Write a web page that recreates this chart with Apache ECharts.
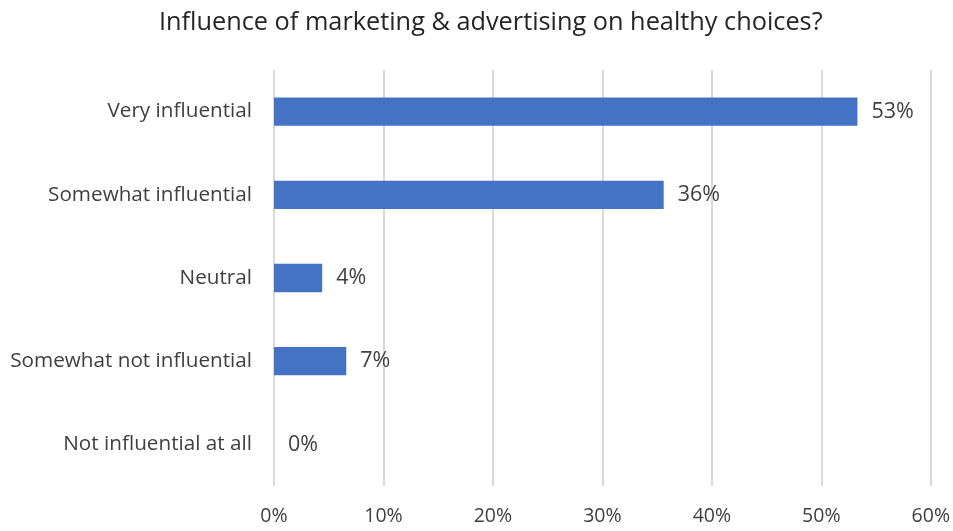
<!DOCTYPE html>
<html>
<head>
<meta charset="utf-8">
<script src="https://cdn.jsdelivr.net/npm/echarts@6/dist/echarts.min.js"></script>
<style>
  html, body { margin: 0; padding: 0; background: #fff; }
  #chart { width: 953px; height: 531px; }
</style>
</head>
<body>
<div id="chart"></div>
<script>
// Survey answers, top to bottom as shown
const categories = [
  'Very influential',
  'Somewhat influential',
  'Neutral',
  'Somewhat not influential',
  'Not influential at all'
];
// Share of respondents, in percent
const shares = [53.3, 35.6, 4.4, 6.6, 0];
const tickMax = 60;
const tickStep = 10;

const FONT = '"Open Sans", "Noto Sans", sans-serif';
const chart = echarts.init(document.getElementById('chart'));

chart.setOption({
  animation: false,
  backgroundColor: '#ffffff',
  title: {
    text: 'Influence of marketing & advertising on healthy choices?',
    left: 154,
    top: 5,
    textStyle: { fontFamily: FONT, fontSize: 25.3, fontWeight: 'normal', color: '#262626' }
  },
  grid: { left: 274, right: 19, top: 70, bottom: 45, containLabel: false },
  xAxis: {
    type: 'value',
    min: 0,
    max: tickMax,
    interval: tickStep,
    axisLine: { show: false },
    axisTick: { show: false },
    splitLine: { show: true, lineStyle: { color: '#d9d9d9', width: 2 } },
    axisLabel: {
      formatter: v => v + '%',
      margin: 20,
      fontFamily: FONT, fontSize: 19.5, color: '#404040'
    }
  },
  yAxis: {
    type: 'category',
    data: categories,
    inverse: true,
    axisLine: { show: false },
    axisTick: { show: false },
    axisLabel: { margin: 22, fontFamily: FONT, fontSize: 20.7, color: '#404040' }
  },
  series: [{
    type: 'bar',
    data: shares,
    barWidth: '34%',
    itemStyle: { color: '#4472c4' },
    label: {
      show: true,
      position: 'right',
      distance: 14,
      formatter: p => Math.round(p.value) + '%',
      fontFamily: FONT, fontSize: 21.5, color: '#404040'
    }
  }]
});
</script>
</body>
</html>
